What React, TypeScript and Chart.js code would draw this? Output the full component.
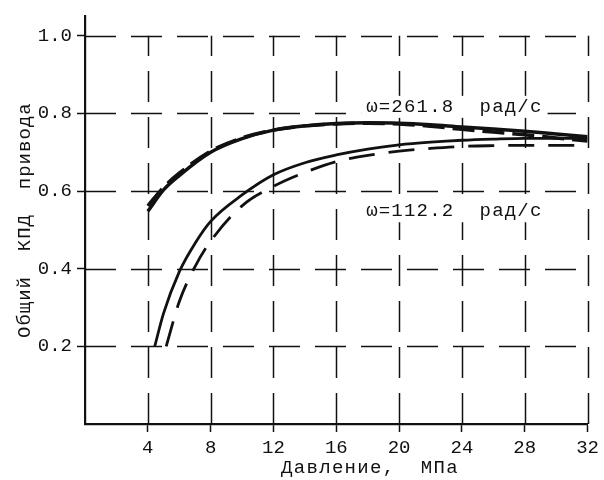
import React, { useEffect, useRef } from "react";
import { Chart, registerables } from "chart.js";

Chart.register(...registerables);

// Axes
const xTicks = [4, 8, 12, 16, 20, 24, 28, 32];
const yTicks = [0.2, 0.4, 0.6, 0.8, 1.0];
const xTitle = "Давление,  МПа";
const yTitle = "Общий  КПД  привода";

// ω = 261.8 рад/с
const hiLabel = "ω=261.8  рад/с";
const hiSolidX = [4, 5, 6, 8, 10, 12, 14, 16, 18, 20, 22, 24, 26, 28, 30, 32];
const hiSolidY = [0.548, 0.603, 0.64, 0.7, 0.735, 0.757, 0.768, 0.774, 0.776, 0.775, 0.771, 0.765, 0.76, 0.754, 0.747, 0.74];
const hiDashX = [4, 5, 6, 8, 10, 12, 14, 16, 18, 20, 22, 24, 26, 28, 30, 32];
const hiDashY = [0.562, 0.61, 0.646, 0.703, 0.737, 0.757, 0.768, 0.773, 0.775, 0.773, 0.767, 0.759, 0.752, 0.745, 0.737, 0.729];

// ω = 112.2 рад/с
const loLabel = "ω=112.2  рад/с";
const loSolidX = [4.44, 5, 6, 7, 8, 10, 12, 14, 16, 18, 20, 22, 24, 26, 28, 30, 32];
const loSolidY = [0.2, 0.285, 0.392, 0.465, 0.522, 0.59, 0.642, 0.673, 0.693, 0.708, 0.719, 0.726, 0.731, 0.734, 0.736, 0.736, 0.736];
const loDashX = [5.17, 6, 7, 8, 10, 12, 14, 16, 18, 20, 22, 24, 26, 28, 30, 32];
const loDashY = [0.2, 0.315, 0.405, 0.471, 0.562, 0.612, 0.648, 0.676, 0.692, 0.703, 0.71, 0.715, 0.717, 0.718, 0.718, 0.717];

const FONT = "'Liberation Mono', 'DejaVu Sans Mono', monospace";

const pts = (xs: number[], ys: number[]) => xs.map((x, i) => ({ x, y: ys[i] }));

const overlayPlugin = {
  id: "overlay",
  beforeDatasetsDraw(chart: any) {
    const { ctx, scales } = chart;
    const xs = scales.x;
    const ys = scales.y;
    const x0 = xs.getPixelForValue(0);
    const x1 = xs.getPixelForValue(32);
    const y0 = ys.getPixelForValue(0);
    const y1 = ys.getPixelForValue(1.0);
    ctx.save();
    ctx.strokeStyle = "#111";
    ctx.lineWidth = 1.5;
    ctx.setLineDash([31, 15]);
    yTicks.forEach((v) => {
      const y = Math.round(ys.getPixelForValue(v)) + 0.5;
      ctx.beginPath();
      ctx.moveTo(x0, y);
      ctx.lineTo(x1, y);
      ctx.stroke();
    });
    xTicks.forEach((v) => {
      const x = Math.round(xs.getPixelForValue(v)) + 0.5;
      ctx.beginPath();
      ctx.moveTo(x, y0);
      ctx.lineTo(x, y1);
      ctx.stroke();
    });
    ctx.restore();
  },
  afterDatasetsDraw(chart: any) {
    const { ctx, scales } = chart;
    const xs = scales.x;
    const ys = scales.y;
    ctx.save();
    ctx.fillStyle = "#111";
    ctx.font = `19px ${FONT}`;
    (ctx as any).letterSpacing = "1.2px";
    ctx.textBaseline = "middle";
    ctx.textAlign = "left";
    const drawLabel = (text: string, xv: number, yv: number) => {
      const x = xs.getPixelForValue(xv);
      const y = ys.getPixelForValue(yv);
      const w = ctx.measureText(text).width;
      ctx.fillStyle = "#fff";
      ctx.fillRect(x - 5, y - 11, w + 10, 22);
      ctx.fillStyle = "#111";
      ctx.fillText(text, x, y);
    };
    drawLabel(hiLabel, 17.9, 0.817);
    drawLabel(loLabel, 17.9, 0.548);

    // axis titles
    ctx.font = `19px ${FONT}`;
    (ctx as any).letterSpacing = "1.3px";
    ctx.textAlign = "center";
    ctx.fillText(xTitle, 370, 468);
    ctx.save();
    ctx.translate(25, (ys.top + ys.bottom) / 2);
    ctx.rotate(-Math.PI / 2);
    (ctx as any).letterSpacing = "1.0px";
    ctx.fillText(yTitle, 0, 0);
    ctx.restore();
    ctx.restore();
  },
};

export default function App() {
  const ref = useRef<HTMLCanvasElement>(null);
  useEffect(() => {
    if (!ref.current) return;
    const chart = new Chart(ref.current, {
      type: "line",
      data: {
        datasets: [
          {
            label: "261.8 solid",
            data: pts(hiSolidX, hiSolidY),
            borderColor: "#111",
            borderWidth: 3.5,
            pointRadius: 0,
            cubicInterpolationMode: "monotone",
          },
          {
            label: "261.8 dashed",
            data: pts(hiDashX, hiDashY),
            borderColor: "#111",
            borderWidth: 3.5,
            borderDash: [22, 8],
            pointRadius: 0,
            cubicInterpolationMode: "monotone",
          },
          {
            label: "112.2 solid",
            data: pts(loSolidX, loSolidY),
            borderColor: "#111",
            borderWidth: 2.8,
            pointRadius: 0,
            cubicInterpolationMode: "monotone",
          },
          {
            label: "112.2 dashed",
            data: pts(loDashX, loDashY),
            borderColor: "#111",
            borderWidth: 2.8,
            borderDash: [26, 14],
            pointRadius: 0,
            cubicInterpolationMode: "monotone",
          },
        ],
      },
      options: {
        responsive: false,
        animation: false,
        events: [],
        layout: { padding: { top: 13, right: 14, left: 0, bottom: 0 } },
        plugins: { legend: { display: false }, tooltip: { enabled: false } },
        scales: {
          x: {
            type: "linear",
            min: 0,
            max: 32,
            afterBuildTicks: (s: any) => {
              s.ticks = xTicks.map((v) => ({ value: v }));
            },
            afterFit: (s: any) => {
              s.height = 56;
            },
            ticks: {
              color: "#111",
              font: { family: FONT, size: 19 },
              padding: 5,
              maxRotation: 0,
              autoSkip: false,
            },
            grid: {
              display: true,
              drawOnChartArea: false,
              drawTicks: true,
              tickLength: 8,
              tickWidth: 1.5,
              tickColor: "#111",
              tickBorderDash: [],
            } as any,
            border: { display: true, color: "#111", width: 2.2 },
          },
          y: {
            type: "linear",
            min: 0,
            max: 1.05,
            afterBuildTicks: (s: any) => {
              s.ticks = yTicks.map((v) => ({ value: v }));
            },
            afterFit: (s: any) => {
              s.width = 85;
            },
            ticks: {
              color: "#111",
              font: { family: FONT, size: 19 },
              padding: 5,
              callback: (v: any) => Number(v).toFixed(1),
            },
            grid: {
              display: true,
              drawOnChartArea: false,
              drawTicks: true,
              tickLength: 8,
              tickWidth: 1.5,
              tickColor: "#111",
              tickBorderDash: [],
            } as any,
            border: { display: true, color: "#111", width: 2.2 },
          },
        },
      },
      plugins: [overlayPlugin],
    } as any);
    return () => chart.destroy();
  }, []);
  return (
    <div style={{ position: "absolute", left: 0, top: 0, width: 604, height: 480, background: "#fff" }}>
      <canvas ref={ref} width={604} height={480} style={{ width: 604, height: 480, display: "block" }} />
    </div>
  );
}
